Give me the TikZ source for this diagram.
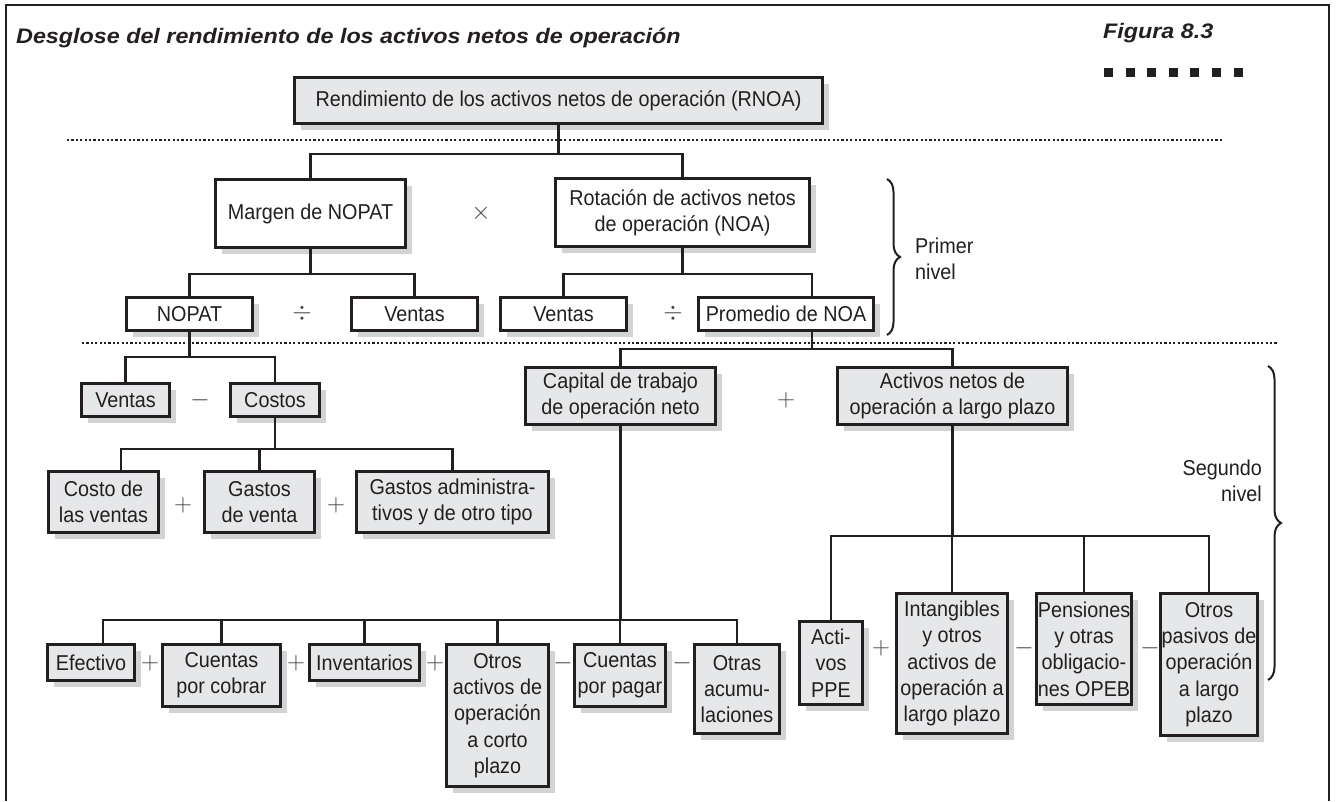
\documentclass[tikz,border=0pt]{standalone}
\usepackage{fontspec}
\setmainfont[FakeStretch=0.92]{Liberation Sans}
\newfontfamily\titlefont[FakeStretch=1.11]{Liberation Sans}
\usetikzlibrary{shadows,decorations.pathreplacing}
\definecolor{ink}{HTML}{231F20}
\definecolor{boxgray}{HTML}{E6E7E8}
\definecolor{shadowgray}{HTML}{D1D3D4}
\begin{document}
\begin{tikzpicture}[x=1pt,y=-1pt,
  base/.style={draw=ink, line width=2.8pt, inner sep=0pt, align=center, text=ink,
    font=\fontsize{21.5}{26.3}\selectfont,
    drop shadow={shadow xshift=6pt, shadow yshift=-6pt, fill=shadowgray, opacity=1}},
  gbox/.style={base, fill=boxgray},
  wbox/.style={base, fill=white},
  conn/.style={draw=ink, line width=2.8pt},
  dots/.style={draw=ink, line width=2.2pt, dash pattern=on 2.2pt off 2.2pt},
  op/.style={text=ink!85, font=\fontsize{24}{24}\selectfont, inner sep=0pt},
  lbl/.style={text=ink, font=\fontsize{21.5}{26.3}\selectfont, inner sep=0pt},
  ttl/.style={text=ink, inner sep=0pt, anchor=base west, font=\titlefont\bfseries\itshape\fontsize{21}{25}\selectfont},
  brc/.style={draw=ink, line width=2pt, decorate, decoration={brace, amplitude=13pt}},
]
\useasboundingbox (0,0) rectangle (1336,801);
\fill[white] (0,0) rectangle (1336,801);
% frame
\draw[ink, line width=2pt] (6,801) -- (6,5) -- (1329,5) -- (1329,801);
% title
\node[ttl] (title) at (16,43) {Desglose del rendimiento de los activos netos de operación};
\node[ttl] (fig) at (1103,38) {Figura 8.3};
\foreach \i in {0,...,6} \fill[ink] ({1104+21.6*\i},68) rectangle ++(9,9);
% separators
\draw[dots] (67,140) -- (1222,140);
\draw[dots] (82,343) -- (1278,343);
% boxes
\node[gbox, minimum width=528pt, minimum height=46pt] (rnoa) at (558.5,100.5) {Rendimiento de los activos netos de operación (RNOA)};
\node[wbox, minimum width=190pt, minimum height=68pt] (margen) at (310.5,213.5) {Margen de NOPAT};
\node[wbox, minimum width=254pt, minimum height=68pt] (rot) at (682.5,212.5) {Rotación de activos netos\\de operación (NOA)};
\node[wbox, minimum width=126pt, minimum height=33pt] (nopat) at (189.5,314) {NOPAT};
\node[wbox, minimum width=126pt, minimum height=33pt] (ventasA) at (414.5,314) {Ventas};
\node[wbox, minimum width=126pt, minimum height=33pt] (ventasB) at (563.5,314) {Ventas};
\node[wbox, minimum width=175pt, minimum height=33pt] (prom) at (786,314) {Promedio de NOA};
\node[gbox, minimum width=88pt, minimum height=33pt] (ventasC) at (125.5,400) {Ventas};
\node[gbox, minimum width=89pt, minimum height=33pt] (costos) at (275,400) {Costos};
\node[gbox, minimum width=190pt, minimum height=57pt] (capital) at (620.5,396) {Capital de trabajo\\de operación neto};
\node[gbox, minimum width=230pt, minimum height=57pt] (activos) at (952.5,396) {Activos netos de\\operación a largo plazo};
\node[gbox, minimum width=110pt, minimum height=61pt] (cventas) at (103.5,502) {Costo de\\las ventas};
\node[gbox, minimum width=110pt, minimum height=61pt] (gventa) at (259.5,502) {Gastos\\de venta};
\node[gbox, minimum width=192pt, minimum height=61pt] (gadmin) at (452.5,502) {Gastos administra-\\tivos y de otro tipo};
\node[gbox, minimum width=87pt, minimum height=36pt] (efectivo) at (91,662.5) {Efectivo};
\node[gbox, minimum width=118pt, minimum height=62pt] (cobrar) at (221.5,675.5) {Cuentas\\por cobrar};
\node[gbox, minimum width=110pt, minimum height=36pt] (invent) at (364.5,662.5) {Inventarios};
\node[gbox, minimum width=102pt, minimum height=142pt] (otrosc) at (497.5,715.5) {Otros\\activos de\\operación\\a corto\\plazo};
\node[gbox, minimum width=91pt, minimum height=62pt] (pagar) at (620,675.5) {Cuentas\\por pagar};
\node[gbox, minimum width=85pt, minimum height=89pt] (acum) at (737,689) {Otras\\acumu-\\laciones};
\node[gbox, minimum width=63pt, minimum height=83pt] (ppe) at (831,663) {Acti-\\vos\\PPE};
\node[gbox, minimum width=111pt, minimum height=140pt] (intang) at (952,663.5) {Intangibles\\y otros\\activos de\\operación a\\largo plazo};
\node[gbox, minimum width=95pt, minimum height=111pt] (pens) at (1084,649) {Pensiones\\y otras\\obligacio-\\nes OPEB};
\node[gbox, minimum width=97pt, minimum height=142pt] (otrosp) at (1209,664.5) {Otros\\pasivos de\\operación\\a largo\\plazo};
% junction levels
\coordinate (yA) at (0,154);
\coordinate (yB) at (0,274);
\coordinate (yD) at (0,349);
\coordinate (yE) at (0,357);
\coordinate (yF) at (0,449);
\coordinate (yG) at (0,620);
\coordinate (yH) at (0,536);
\coordinate (pj) at (812,0);
\coordinate (cvj) at (121,0);
\coordinate (efj) at (103,0);
% connectors
\draw[conn] (rnoa.south) -- (rnoa.south |- yA);
\draw[conn] (margen.north) |- (rot.north |- yA) -- (rot.north);
\draw[conn] (margen.south) -- (margen.south |- yB);
\draw[conn] (nopat.north) |- (ventasA.north |- yB) -- (ventasA.north);
\draw[conn] (rot.south) -- (rot.south |- yB);
\draw[conn] (ventasB.north) |- (pj |- yB) -- (pj |- prom.north);
\draw[conn] (pj |- prom.south) -- (pj |- yD);
\draw[conn] (capital.north) |- (activos.north |- yD) -- (activos.north);
\draw[conn] (nopat.south) -- (nopat.south |- yE);
\draw[conn] (ventasC.north) |- (costos.north |- yE) -- (costos.north);
\draw[conn] (costos.south) -- (costos.south |- yF);
\draw[conn] (cvj |- cventas.north) |- (gadmin.north |- yF) -- (gadmin.north);
\draw[conn] (gventa.north) -- (gventa.north |- yF);
\draw[conn] (capital.south) -- (capital.south |- yG);
\draw[conn] (efj |- efectivo.north) |- (acum.north |- yG) -- (acum.north);
\foreach \n in {cobrar,invent,otrosc,pagar} \draw[conn] (\n.north) -- (\n.north |- yG);
\draw[conn] (activos.south) -- (activos.south |- yH);
\draw[conn] (ppe.north) |- (otrosp.north |- yH) -- (otrosp.north);
\foreach \n in {intang,pens} \draw[conn] (\n.north) -- (\n.north |- yH);
% operators
\node[op] (o1) at (481,213) {$\times$};
\node[op] (o2) at (302,313) {$\div$};
\node[op] (o3) at (673,313) {$\div$};
\node[op] (o4) at (200,400) {$-$};
\node[op] (o5) at (786,400) {$+$};
\node[op] (o6) at (183,505) {$+$};
\node[op] (o7) at (336,505) {$+$};
\node[op] (o8) at (150,663) {$+$};
\node[op] (o9) at (296,663) {$+$};
\node[op] (o10) at (435,663) {$+$};
\node[op] (o11) at (563,663) {$-$};
\node[op] (o12) at (682,663) {$-$};
\node[op] (o13) at (881,648) {$+$};
\node[op] (o14) at (1024,648) {$-$};
\node[op] (o15) at (1150,648) {$-$};
% braces and level labels
\draw[brc] (887,179) -- (887,335);
\draw[brc] (1268,366) -- (1268,680);
\node[lbl, anchor=west, align=left] (primer) at (915,258.5) {Primer\\nivel};
\node[lbl, anchor=east, align=right] (segundo) at (1262,481) {Segundo\\nivel};
\end{tikzpicture}
\end{document}
